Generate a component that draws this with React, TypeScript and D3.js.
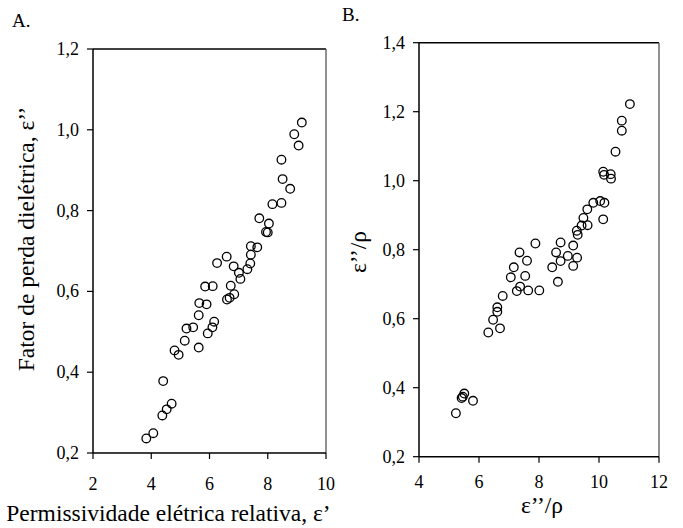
import React from "react";
import * as d3 from "d3";

const panelAX = [9.17, 8.91, 9.06, 8.47, 8.51, 8.77, 8.16, 8.47, 7.71, 8.04, 7.94, 8.0, 7.42, 7.64, 7.42, 7.40, 7.30, 7.01, 7.06, 6.83, 6.59, 6.26, 6.73, 6.85, 6.69, 6.60, 5.85, 6.11, 5.65, 5.90, 5.63, 6.16, 6.10, 5.94, 5.44, 5.21, 5.15, 5.63, 4.80, 4.94, 4.41, 4.70, 4.53, 4.38, 4.07, 3.83];
const panelAY = [1.018, 0.989, 0.961, 0.926, 0.878, 0.854, 0.816, 0.819, 0.781, 0.768, 0.747, 0.746, 0.712, 0.709, 0.691, 0.669, 0.655, 0.646, 0.631, 0.662, 0.686, 0.670, 0.614, 0.593, 0.584, 0.580, 0.612, 0.613, 0.571, 0.568, 0.541, 0.525, 0.511, 0.496, 0.511, 0.508, 0.478, 0.461, 0.454, 0.443, 0.378, 0.322, 0.308, 0.293, 0.249, 0.236];

const panelBX = [11.03, 10.76, 10.76, 10.55, 10.14, 10.17, 10.39, 10.40, 10.04, 9.81, 10.18, 9.61, 9.48, 10.14, 9.62, 9.42, 9.26, 9.29, 9.14, 8.72, 8.57, 8.96, 9.27, 8.72, 9.14, 8.44, 8.63, 7.88, 7.35, 7.60, 7.16, 7.06, 7.54, 7.37, 7.26, 7.64, 8.01, 6.79, 6.61, 6.61, 6.47, 6.70, 6.31, 5.51, 5.46, 5.42, 5.80, 5.23];
const panelBY = [1.222, 1.174, 1.145, 1.084, 1.026, 1.017, 1.019, 1.006, 0.941, 0.936, 0.936, 0.917, 0.892, 0.888, 0.871, 0.870, 0.855, 0.843, 0.812, 0.821, 0.792, 0.782, 0.777, 0.767, 0.753, 0.749, 0.707, 0.818, 0.792, 0.768, 0.749, 0.720, 0.724, 0.693, 0.680, 0.682, 0.682, 0.666, 0.633, 0.620, 0.597, 0.572, 0.560, 0.383, 0.374, 0.370, 0.362, 0.326];

const ticksAX = [2, 4, 6, 8, 10];
const ticksAY = [0.2, 0.4, 0.6, 0.8, 1.0, 1.2];
const ticksBX = [4, 6, 8, 10, 12];
const ticksBY = [0.2, 0.4, 0.6, 0.8, 1.0, 1.2, 1.4];

const FONT = '"Liberation Serif", "DejaVu Serif", "Times New Roman", Times, serif';
const fs = (size: number) => ({ fontFamily: FONT, fontSize: size + "px" });
const fmt = (v: number) => v.toFixed(1).replace(".", ",");

type PanelProps = {
  xs: number[];
  ys: number[];
  xDomain: [number, number];
  yDomain: [number, number];
  xTicks: number[];
  yTicks: number[];
  left: number;
  right: number;
  top: number;
  bottom: number;
  xLabelBaseline: number;
};

function Panel(p: PanelProps) {
  const x = d3.scaleLinear().domain(p.xDomain).range([p.left, p.right]);
  const y = d3.scaleLinear().domain(p.yDomain).range([p.bottom, p.top]);
  return (
    <g>
      <line x1={p.left} x2={p.right} y1={p.top} y2={p.top} stroke="#000" strokeWidth={1.5} />
      <line x1={p.right} x2={p.right} y1={p.top} y2={p.bottom} stroke="#555" strokeWidth={1.3} />
      <line x1={p.left} x2={p.left} y1={p.top} y2={p.bottom} stroke="#000" strokeWidth={1.5} />
      <line x1={p.left} x2={p.right} y1={p.bottom} y2={p.bottom} stroke="#000" strokeWidth={1.5} />
      {p.yTicks.map((t) => (
        <g key={"y" + t}>
          <line x1={p.left - 6} x2={p.left} y1={y(t)} y2={y(t)} stroke="#000" strokeWidth={1.2} />
          <text x={p.left - 14} y={y(t) + 6} textAnchor="end" style={fs(18)}>
            {fmt(t)}
          </text>
        </g>
      ))}
      {p.xTicks.map((t) => (
        <g key={"x" + t}>
          <line x1={x(t)} x2={x(t)} y1={p.bottom} y2={p.bottom + 6} stroke="#000" strokeWidth={1.2} />
          <text x={x(t)} y={p.xLabelBaseline} textAnchor="middle" style={fs(18)}>
            {t}
          </text>
        </g>
      ))}
      {p.xs.map((v, i) => (
        <circle key={i} cx={x(v)} cy={y(p.ys[i])} r={4.3} fill="none" stroke="#000" strokeWidth={1.3} />
      ))}
    </g>
  );
}

export default function App() {
  return (
    <svg width={683} height={528} style={{ display: "block", position: "absolute", left: 0, top: 0 }}>
      <rect width={683} height={528} fill="#fff" />
      <text x={12} y={27} style={fs(19)}>A.</text>
      <text x={342} y={21} style={fs(19)}>B.</text>
      <Panel
        xs={panelAX}
        ys={panelAY}
        xDomain={[2, 10]}
        yDomain={[0.2, 1.2]}
        xTicks={ticksAX}
        yTicks={ticksAY}
        left={93}
        right={326}
        top={49}
        bottom={453}
        xLabelBaseline={490}
      />
      <Panel
        xs={panelBX}
        ys={panelBY}
        xDomain={[4, 12]}
        yDomain={[0.2, 1.4]}
        xTicks={ticksBX}
        yTicks={ticksBY}
        left={419}
        right={659}
        top={42.7}
        bottom={456.7}
        xLabelBaseline={488}
      />
      <text transform="translate(34,239) rotate(-90)" textAnchor="middle" style={fs(23.5)}>
        Fator de perda dielétrica, ε’’
      </text>
      <text x={168.5} y={521} textAnchor="middle" style={fs(23.5)}>
        Permissividade elétrica relativa, ε’
      </text>
      <text transform="translate(366,252) rotate(-90)" textAnchor="middle" style={fs(23.5)}>
        ε’’/ρ
      </text>
      <text x={542} y={513} textAnchor="middle" style={fs(23.5)}>
        ε’’/ρ
      </text>
    </svg>
  );
}
